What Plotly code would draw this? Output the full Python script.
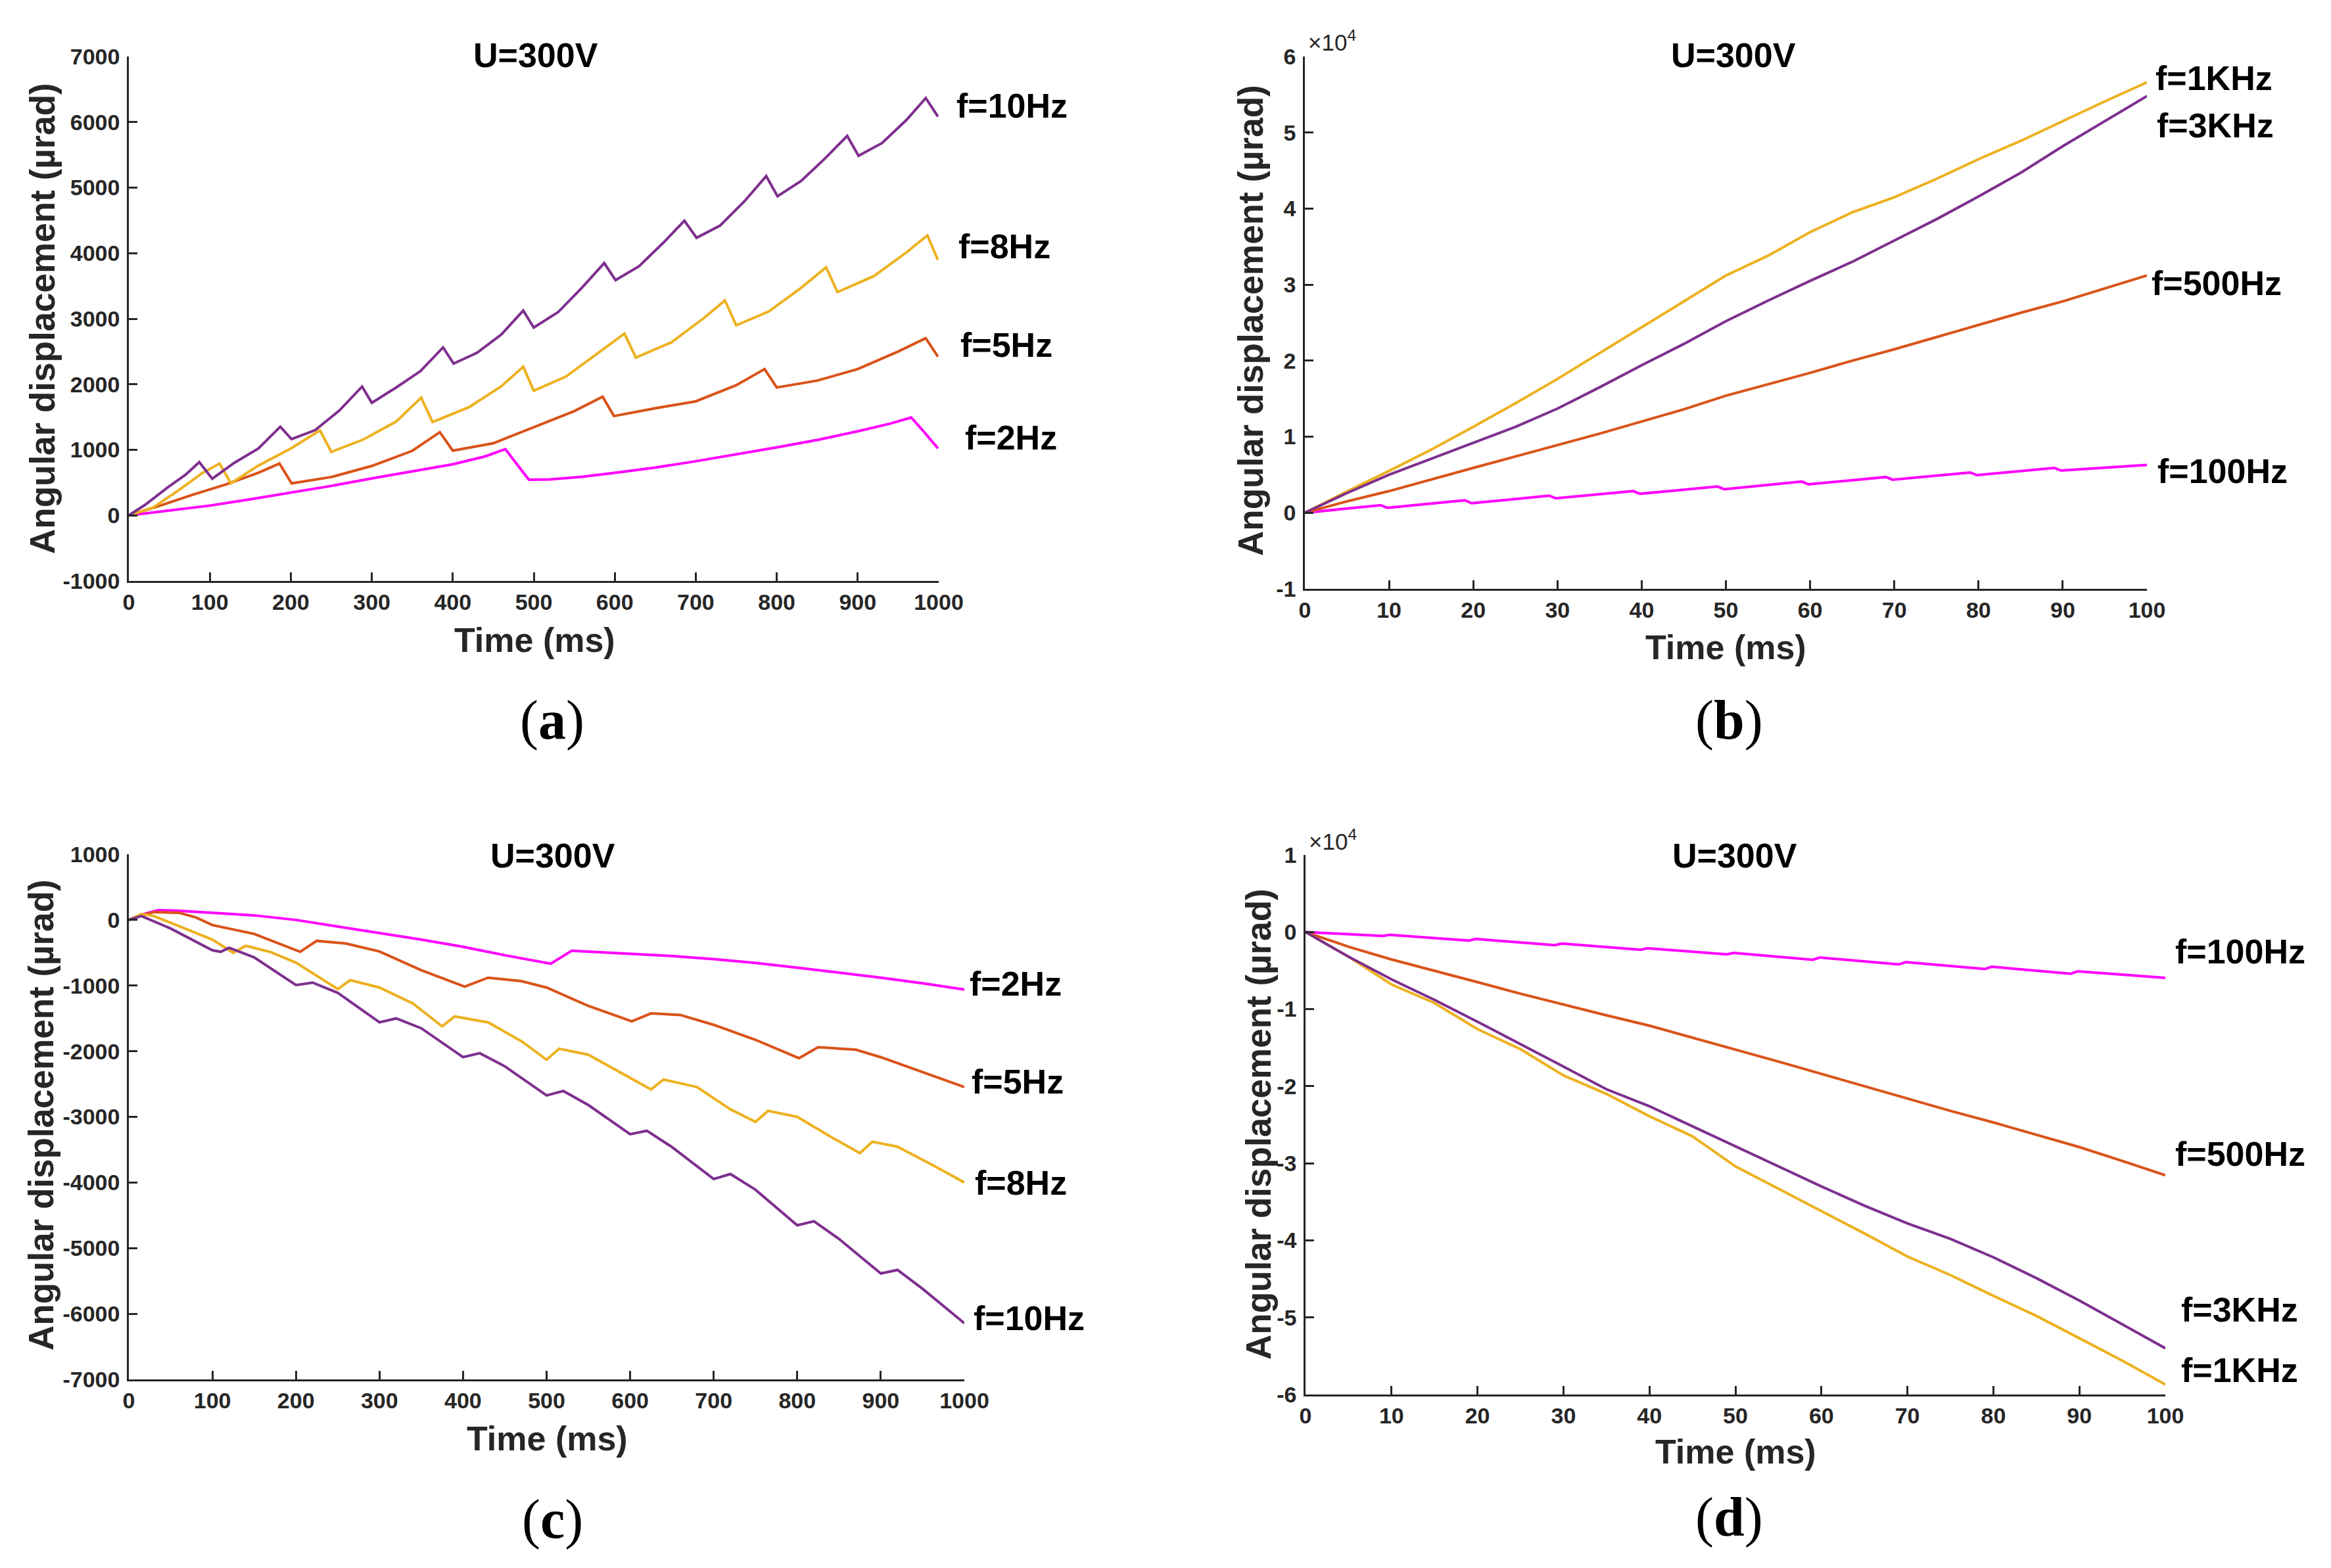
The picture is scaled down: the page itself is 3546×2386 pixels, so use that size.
import plotly.graph_objects as go

W, H = 3546, 2386

# ---------------- Data ----------------
# Panel (a): U=300V, low frequencies, positive direction (µrad)
a_t_10hz = [0, 20, 50, 70, 87, 103, 130, 160, 187, 201, 230, 260, 288, 300, 330, 360, 388, 401, 430, 460,
            487, 500, 530, 560, 587, 601, 630, 660, 686, 701, 730, 760, 787, 801, 830, 860, 887, 901, 930, 960, 984, 999]
a_v_10hz = [0, 160, 445, 620, 812, 559, 800, 1020, 1353, 1163, 1300, 1600, 1965, 1718, 1950, 2200, 2563, 2316, 2480, 2760,
            3124, 2865, 3100, 3480, 3849, 3589, 3800, 4160, 4495, 4235, 4420, 4790, 5176, 4867, 5100, 5450, 5789, 5486, 5680, 6030, 6366, 6084]
a_t_8hz = [0, 30, 60, 90, 112, 126, 160, 200, 236, 250, 290, 330, 361, 375, 420, 460, 487, 500, 540, 580,
           612, 626, 670, 710, 736, 750, 790, 830, 861, 875, 920, 960, 986, 999]
a_v_8hz = [0, 120, 370, 640, 791, 490, 760, 1020, 1297, 967, 1160, 1430, 1796, 1424, 1650, 1970, 2267, 1902, 2120, 2480,
           2773, 2408, 2640, 3010, 3279, 2900, 3110, 3470, 3785, 3406, 3650, 4010, 4270, 3898]
a_t_5hz = [0, 40, 80, 120, 160, 186, 201, 250, 300, 350, 384, 400, 450, 500, 550, 585, 599, 650, 700, 750,
           785, 800, 850, 900, 950, 984, 999]
a_v_5hz = [0, 154, 320, 472, 651, 791, 489, 585, 754, 985, 1269, 988, 1100, 1340, 1590, 1810, 1515, 1634, 1740, 1986,
           2232, 1951, 2056, 2232, 2500, 2703, 2422]
a_t_2hz = [0, 50, 100, 150, 200, 250, 300, 350, 400, 440, 465, 478, 494, 520, 560, 600, 650, 700, 750, 800,
           850, 900, 940, 966, 980, 999]
a_v_2hz = [0, 75, 149, 245, 344, 450, 564, 670, 780, 900, 1010, 800, 545, 550, 590, 650, 730, 826, 930, 1037,
           1150, 1283, 1400, 1494, 1300, 1023]

# Panel (b): U=300V, high frequencies, positive direction (x10^4 µrad)
b_t = [0, 5, 10, 15, 20, 25, 30, 35, 40, 45, 50, 55, 60, 65, 70, 75, 80, 85, 90, 95, 100]
b_v_1khz = [0, 0.28, 0.55, 0.83, 1.13, 1.44, 1.76, 2.10, 2.44, 2.77, 3.12, 3.38, 3.69, 3.95, 4.15, 4.39, 4.65, 4.89, 5.15, 5.41, 5.66]
b_v_3khz = [0, 0.26, 0.50, 0.71, 0.92, 1.13, 1.37, 1.65, 1.94, 2.22, 2.52, 2.79, 3.05, 3.30, 3.58, 3.86, 4.16, 4.47, 4.82, 5.15, 5.48]
b_v_500hz = [0, 0.15, 0.285, 0.44, 0.59, 0.74, 0.89, 1.04, 1.20, 1.36, 1.54, 1.69, 1.84, 2.00, 2.15, 2.31, 2.47, 2.63, 2.78, 2.95, 3.12]
b_t_100hz = [0, 9, 9.8, 19, 19.8, 29, 29.8, 39, 39.8, 49, 49.8, 59, 59.8, 69, 69.8, 79, 79.8, 89, 89.8, 100]
b_v_100hz = [0, 0.10, 0.065, 0.165, 0.125, 0.225, 0.19, 0.285, 0.25, 0.345, 0.31, 0.41, 0.375, 0.47, 0.435, 0.53, 0.495, 0.59, 0.555, 0.63]

# Panel (c): U=300V, low frequencies, negative direction (µrad)
c_t_2hz = [0, 15, 35, 60, 100, 150, 200, 250, 300, 350, 400, 450, 505, 530, 560, 600, 650, 700, 750, 800, 850, 900, 950, 1000]
c_v_2hz = [0, 80, 150, 140, 110, 70, 0, -98, -197, -300, -409, -538, -667, -470, -490, -515, -550, -598, -655, -727, -800, -879, -965, -1061]
c_t_5hz = [0, 15, 30, 60, 80, 100, 150, 205, 225, 260, 300, 350, 402, 430, 470, 500, 550, 602, 625, 660,
           700, 750, 802, 825, 870, 900, 950, 1000]
c_v_5hz = [0, 70, 120, 110, 40, -78, -212, -485, -318, -360, -480, -765, -1015, -879, -932, -1030, -1310, -1545, -1424, -1447,
           -1598, -1826, -2106, -1939, -1977, -2091, -2318, -2545]
c_t_8hz = [0, 15, 30, 50, 100, 125, 140, 170, 200, 250, 265, 300, 340, 375, 390, 430, 470, 500, 515, 550,
           590, 625, 640, 680, 720, 750, 765, 800, 840, 875, 890, 920, 960, 1000]
c_v_8hz = [0, 90, 60, -45, -300, -500, -394, -490, -651, -1053, -917, -1030, -1273, -1621, -1470, -1560, -1848, -2129, -1962, -2053,
           -2333, -2583, -2432, -2545, -2886, -3076, -2909, -3000, -3303, -3553, -3379, -3455, -3720, -4000]
c_t_10hz = [0, 15, 50, 100, 110, 120, 150, 200, 220, 250, 300, 320, 350, 400, 420, 450, 500, 520, 550, 600,
            620, 650, 700, 720, 750, 800, 820, 850, 900, 920, 950, 1000]
c_v_10hz = [0, 60, -130, -462, -485, -424, -570, -992, -955, -1110, -1560, -1500, -1650, -2091, -2030, -2230, -2674, -2606, -2820, -3265,
            -3212, -3460, -3947, -3871, -4110, -4652, -4591, -4860, -5386, -5333, -5620, -6144]

# Panel (d): U=300V, high frequencies, negative direction (x10^4 µrad)
d_t = [0, 5, 10, 15, 20, 25, 30, 35, 40, 45, 50, 55, 60, 65, 70, 75, 80, 85, 90, 95, 100]
d_v_1khz = [0, -0.32, -0.68, -0.92, -1.26, -1.52, -1.86, -2.10, -2.39, -2.65, -3.04, -3.33, -3.62, -3.91, -4.21, -4.45, -4.72, -4.98, -5.27, -5.56, -5.87]
d_v_3khz = [0, -0.32, -0.614, -0.88, -1.164, -1.45, -1.745, -2.04, -2.26, -2.52, -2.78, -3.04, -3.30, -3.55, -3.78, -3.98, -4.22, -4.49, -4.78, -5.09, -5.40]
d_v_500hz = [0, -0.19, -0.356, -0.50, -0.65, -0.80, -0.944, -1.08, -1.215, -1.37, -1.52, -1.68, -1.84, -2.00, -2.165, -2.32, -2.47, -2.63, -2.79, -2.97, -3.155]
d_t_100hz = [0, 9, 9.8, 19, 19.8, 29, 29.8, 39, 39.8, 49, 49.8, 59, 59.8, 69, 69.8, 79, 79.8, 89, 89.8, 100]
d_v_100hz = [0, -0.05, -0.035, -0.11, -0.09, -0.17, -0.15, -0.23, -0.21, -0.29, -0.27, -0.36, -0.33, -0.42, -0.39, -0.48, -0.45, -0.54, -0.51, -0.595]

# tick labels
ticks_a = [-1000, 0, 1000, 2000, 3000, 4000, 5000, 6000, 7000]
ticks_b = [-1, 0, 1, 2, 3, 4, 5, 6]
ticks_c = [-7000, -6000, -5000, -4000, -3000, -2000, -1000, 0, 1000]
ticks_d = [-6, -5, -4, -3, -2, -1, 0, 1]
xt_low = [0, 100, 200, 300, 400, 500, 600, 700, 800, 900, 1000]
xt_high = [0, 10, 20, 30, 40, 50, 60, 70, 80, 90, 100]

# ---------------- Styles ----------------
PURPLE = "#7E2F8E"
YELLOW = "#EDB120"
ORANGE = "#D95319"
MAGENTA = "#FF00FF"
AX = "#262626"
SANS = "Liberation Sans, Arial, sans-serif"
SERIF = "Liberation Serif, Times New Roman, serif"
LW = 4

fig = go.Figure()

def add(x, y, color, xa, ya):
    fig.add_trace(go.Scatter(x=x, y=y, mode="lines", line=dict(color=color, width=LW),
                             xaxis=xa, yaxis=ya, showlegend=False, hoverinfo="skip"))

add(a_t_2hz, a_v_2hz, MAGENTA, "x", "y")
add(a_t_5hz, a_v_5hz, ORANGE, "x", "y")
add(a_t_8hz, a_v_8hz, YELLOW, "x", "y")
add(a_t_10hz, a_v_10hz, PURPLE, "x", "y")

add(b_t_100hz, b_v_100hz, MAGENTA, "x2", "y2")
add(b_t, b_v_500hz, ORANGE, "x2", "y2")
add(b_t, b_v_1khz, YELLOW, "x2", "y2")
add(b_t, b_v_3khz, PURPLE, "x2", "y2")

add(c_t_2hz, c_v_2hz, MAGENTA, "x3", "y3")
add(c_t_5hz, c_v_5hz, ORANGE, "x3", "y3")
add(c_t_8hz, c_v_8hz, YELLOW, "x3", "y3")
add(c_t_10hz, c_v_10hz, PURPLE, "x3", "y3")

add(d_t_100hz, d_v_100hz, MAGENTA, "x4", "y4")
add(d_t, d_v_500hz, ORANGE, "x4", "y4")
add(d_t, d_v_1khz, YELLOW, "x4", "y4")
add(d_t, d_v_3khz, PURPLE, "x4", "y4")

def px_x(p):
    return p / W

def px_y(p):
    return 1 - p / H

tickfont = dict(family=SANS, size=34, color=AX, weight="bold")

def axstyle(domain, rng, tv, anchor, is_y):
    d = dict(domain=domain, range=rng, tickvals=tv, ticktext=[str(v) for v in tv],
             showline=True, linecolor=AX, linewidth=2.5, ticks="inside", ticklen=13,
             tickwidth=2.5, tickcolor=AX, showgrid=False, zeroline=False, mirror=False,
             tickfont=tickfont, anchor=anchor, fixedrange=True, automargin=False)
    d["ticklabelstandoff"] = 4 if is_y else 0
    return d

# plot-area pixel boxes: (left, right, top, bottom)
boxes = {
    "a": (196, 1428, 86, 884),
    "b": (1985, 3266, 86, 896),
    "c": (196, 1467, 1300, 2099),
    "d": (1986, 3294, 1301, 2122),
}

def dom(box):
    l, r, t, b = box
    return [px_x(l), px_x(r)], [px_y(b), px_y(t)]

xa, ya = dom(boxes["a"])
xb, yb = dom(boxes["b"])
xc, yc = dom(boxes["c"])
xd, yd = dom(boxes["d"])

fig.update_layout(
    width=W, height=H, autosize=False,
    margin=dict(l=0, r=0, t=0, b=0, pad=0, autoexpand=False),
    paper_bgcolor="white", plot_bgcolor="white",
    xaxis=axstyle(xa, [0, 1000], xt_low, "y", False),
    yaxis=axstyle(ya, [-1000, 7000], ticks_a, "x", True),
    xaxis2=axstyle(xb, [0, 100], xt_high, "y2", False),
    yaxis2=axstyle(yb, [-1, 6], ticks_b, "x2", True),
    xaxis3=axstyle(xc, [0, 1000], xt_low, "y3", False),
    yaxis3=axstyle(yc, [-7000, 1000], ticks_c, "x3", True),
    xaxis4=axstyle(xd, [0, 100], xt_high, "y4", False),
    yaxis4=axstyle(yd, [-6, 1], ticks_d, "x4", True),
)

ann = []

def text(x, y, s, size, color="black", family=SANS, bold=True, xanchor="center", angle=0):
    f = dict(family=family, size=size, color=color)
    if bold:
        f["weight"] = "bold"
    ann.append(dict(x=px_x(x), y=px_y(y), xref="paper", yref="paper", text=s, showarrow=False,
                    font=f, xanchor=xanchor, yanchor="middle", textangle=angle))

# titles
for (x, y) in [(815, 84), (2637, 84), (841, 1302), (2639, 1302)]:
    text(x, y, "U=300V", 52)

# x-axis titles
for (x, y) in [(813, 974), (2625, 985), (832, 2189), (2640, 2209)]:
    text(x, y, "Time (ms)", 52, color=AX)

# y-axis titles
for (x, y) in [(64, 485), (1903, 488), (62, 1697), (1914, 1711)]:
    text(x, y, "Angular displacement (µrad)", 53, color=AX, angle=-90)

# x10^4 exponent labels
text(1988, 62, "×10<sup>4</sup>", 35, color=AX, bold=False, xanchor="left")
text(1989, 1278, "×10<sup>4</sup>", 35, color=AX, bold=False, xanchor="left")

# curve labels
labels = [
    (1453, 161, "f=10Hz"), (1456, 375, "f=8Hz"), (1459, 525, "f=5Hz"), (1466, 666, "f=2Hz"),
    (3277, 119, "f=1KHz"), (3279, 191, "f=3KHz"), (3271, 431, "f=500Hz"), (3280, 717, "f=100Hz"),
    (1473, 1497, "f=2Hz"), (1476, 1646, "f=5Hz"), (1481, 1800, "f=8Hz"), (1479, 2006, "f=10Hz"),
    (3307, 1448, "f=100Hz"), (3307, 1756, "f=500Hz"), (3316, 1993, "f=3KHz"), (3316, 2085, "f=1KHz"),
]
for (x, y, s) in labels:
    text(x, y, s, 52, xanchor="left")

# panel letters
for (x, y, s) in [(840, 1096, "a"), (2630, 1096, "b"), (840, 2312, "c"), (2630, 2309, "d")]:
    text(x, y, "(<b>" + s + "</b>)", 84, family=SERIF, bold=False)

fig.update_layout(annotations=ann)

reset_js = ("document.documentElement.style.margin='0';document.documentElement.style.padding='0';"
            "document.documentElement.style.overflow='hidden';"
            "document.body.style.margin='0';document.body.style.padding='0';document.body.style.overflow='hidden';")

fig.write_html("out.html", post_script=reset_js, config={"displayModeBar": False, "responsive": False})
